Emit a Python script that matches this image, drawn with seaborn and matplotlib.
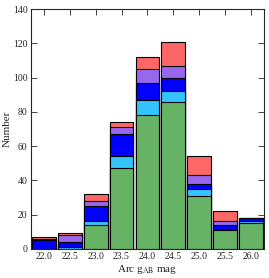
import numpy as np
import pandas as pd
import matplotlib.pyplot as plt
import seaborn as sns

# bin centres (Arc g_AB mag) and stacked counts, bottom to top
mags = ["22.0", "22.5", "23.0", "23.5", "24.0", "24.5", "25.0", "25.5", "26.0"]
green = [0, 0, 14, 47, 78, 86, 31, 11, 15]
cyan = [0, 1, 2, 7, 9, 6, 4, 0, 1]
blue = [5, 3, 9, 13, 10, 8, 3, 3, 2]
purple = [1, 4, 3, 4, 8, 7, 5, 2, 0]
red = [1, 1, 4, 3, 7, 14, 11, 6, 0]

layers = [green, cyan, blue, purple, red]
colors = ["#66b366", "#33c4ff", "#0000ff", "#9966ee", "#ff6666"]

sns.set_style("ticks")
plt.rcParams["font.family"] = ["Liberation Serif", "DejaVu Serif"]
plt.rcParams["mathtext.fontset"] = "stix"

fig = plt.figure(figsize=(2.69, 2.78), dpi=100)
ax = fig.add_axes([0.115, 0.105, 0.866, 0.862])

cum = np.cumsum(np.array(layers), axis=0)
# draw tallest cumulative total first, then cover with lower ones
for i in range(len(layers) - 1, -1, -1):
    df = pd.DataFrame({"mag": mags, "n": cum[i]})
    sns.barplot(data=df, x="mag", y="n", order=mags, color=colors[i],
                saturation=1, width=0.92, edgecolor="black", linewidth=0.8,
                ax=ax)

ax.set_xlim(-0.5, len(mags) - 0.5)
ax.set_ylim(0, 140)
ax.set_yticks(range(0, 141, 20))
ax.tick_params(direction="in", top=True, right=True, labelsize=7,
               length=4, width=0.6, pad=2.5)
for s in ax.spines.values():
    s.set_linewidth(0.8)
ax.set_xlabel(r"Arc g$_{\rm AB}$ mag", fontsize=8, labelpad=1)
ax.set_ylabel("Number", fontsize=8, labelpad=1)

fig.savefig("out.png", dpi=100)
